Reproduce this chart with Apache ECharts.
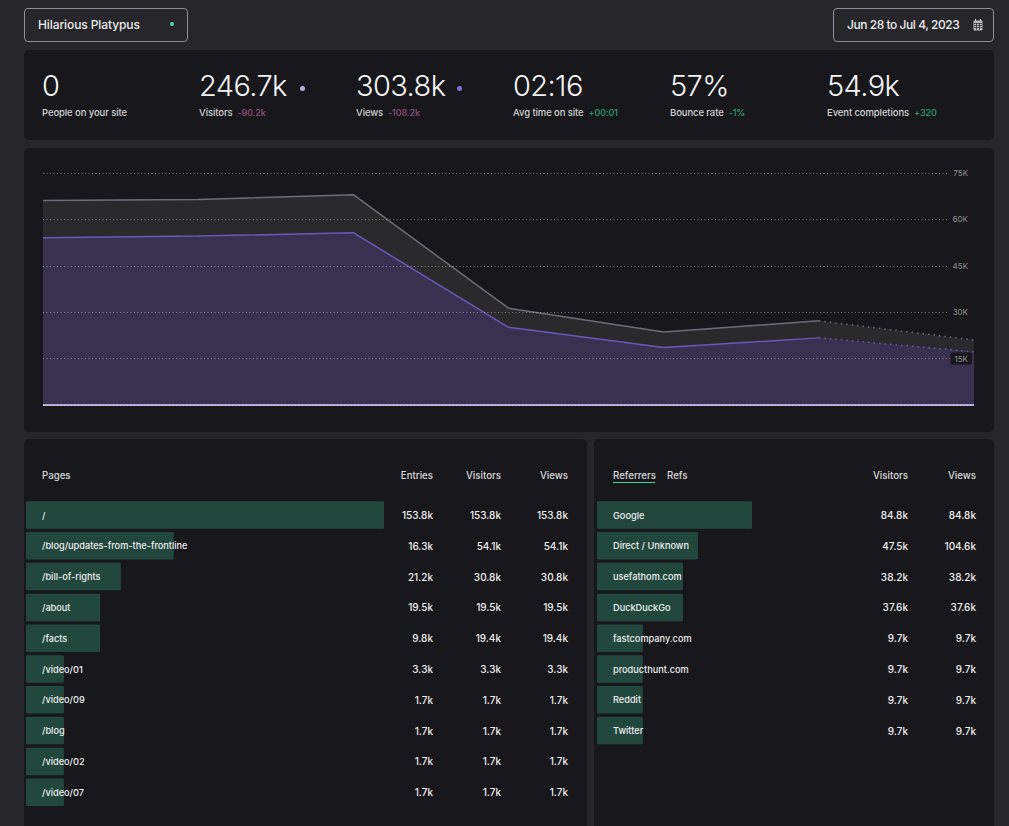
<!DOCTYPE html>
<html><head><meta charset="utf-8"><title>Analytics</title>
<script src="https://cdn.jsdelivr.net/npm/echarts@6/dist/echarts.min.js"></script>
<style>
html,body{margin:0;padding:0;width:1009px;height:826px;overflow:hidden;background:#26262b;font-family:Inter,sans-serif;color:#eee}
.panel{position:absolute;background:#18181c;border-radius:5px}
.box{position:absolute;box-sizing:border-box;top:8px;height:34px;border:1px solid #8f8f95;border-radius:4px;font-size:12px;font-weight:500;line-height:32px;color:#ececec;letter-spacing:-.1px}
.kpi{position:absolute;top:67px}
.kpi .big{font-size:29px;font-weight:300;line-height:38px;color:#f4f4f4;letter-spacing:-.6px;white-space:nowrap}
.kpi .sub{font-size:9.5px;font-weight:500;line-height:14px;margin-top:1px;color:#d2d2d4;white-space:nowrap;letter-spacing:-.1px}
.kpi .sub span{margin-left:5px;font-size:9px}
.dot{position:absolute;border-radius:50%}
#c{position:absolute;left:0;top:0;width:1009px;height:826px}
.hd{position:absolute;top:470px;font-size:9.7px;font-weight:500;line-height:12px;color:#d8d8da;white-space:nowrap}
</style></head><body>
<div class="panel" style="left:24px;top:50px;width:970px;height:90px"></div>
<div class="panel" style="left:24px;top:148px;width:970px;height:284px"></div>
<div class="panel" style="left:24px;top:439px;width:563px;height:400px"></div>
<div class="panel" style="left:594px;top:439px;width:400px;height:400px"></div>
<div class="box" style="left:24px;width:164px;padding-left:13px">Hilarious Platypus</div>
<div class="dot" style="left:170px;top:22px;width:4px;height:4px;background:#41d6a4"></div>
<div class="box" style="left:833px;width:161px;padding-left:13px;letter-spacing:-.45px">Jun 28 to Jul 4, 2023</div>
<svg style="position:absolute;left:973px;top:19px" width="10" height="12" viewBox="0 0 10 12"><rect x=".5" y="1.5" width="9" height="10" rx="1" fill="#b9b9bd"/><path d="M2.5 0v2M7.5 0v2" stroke="#d5d5d8"/><path d="M1 4.5h8M1 6.5h8M1 8.5h8M3.5 4v7M6.5 4v7" stroke="#2a2a2f" stroke-width=".7"/></svg>
<div id="kpis"></div>
<div id="heads"></div>
<div style="position:absolute;left:613px;top:482px;width:42px;height:1px;background:#3fd8a8"></div>
<div id="c"></div>
<script>
// Header tiles
var kpiValues = ['0','246.7k','303.8k','02:16','57%','54.9k'];
var kpiLabels = ['People on your site','Visitors','Views','Avg time on site','Bounce rate','Event completions'];
var kpiDeltas = ['','-90.2k','-108.2k','+00:01','-1%','+320'];

// Time series
var days = ['Jun 28, 2023','Jun 29, 2023','Jun 30, 2023','Jul 1, 2023','Jul 2, 2023','Jul 3, 2023','Jul 4, 2023'];
var viewsValues = [66100,66400,68000,31300,23600,27200,21000];
var visitorsValues = [54100,54600,55700,25100,18600,21700,17200];
var eventValues = [0,0,0,0,0,0,0];

// Pages table
var pageNames = ['/','/blog/updates-from-the-frontline','/bill-of-rights','/about','/facts','/video/01','/video/09','/blog','/video/02','/video/07'];
var pageEntries = ['153.8k','16.3k','21.2k','19.5k','9.8k','3.3k','1.7k','1.7k','1.7k','1.7k'];
var pageVisitors = ['153.8k','54.1k','30.8k','19.5k','19.4k','3.3k','1.7k','1.7k','1.7k','1.7k'];
var pageViews = ['153.8k','54.1k','30.8k','19.5k','19.4k','3.3k','1.7k','1.7k','1.7k','1.7k'];
var pageBarLengths = [100,41.3,26.5,20.7,20.7,10.6,10.6,10.6,10.6,10.6];

// Referrers table
var refNames = ['Google','Direct / Unknown','usefathom.com','DuckDuckGo','fastcompany.com','producthunt.com','Reddit','Twitter'];
var refVisitors = ['84.8k','47.5k','38.2k','37.6k','9.7k','9.7k','9.7k','9.7k'];
var refViews = ['84.8k','104.6k','38.2k','37.6k','9.7k','9.7k','9.7k','9.7k'];
var refBarLengths = [43.3,28.2,24,24,12.8,12.8,12.8,12.8];

var kpiX = [42,199,356,513,670,827];
document.getElementById('kpis').innerHTML = kpiValues.map(function(v,i){
  var d = kpiDeltas[i];
  var col = d.charAt(0)==='+' || i===4 ? '#2f9e78' : '#94507c';
  return '<div class="kpi" style="left:'+kpiX[i]+'px"><div class="big">'+v+'</div><div class="sub">'+kpiLabels[i]+(d?'<span style="color:'+col+'">'+d+'</span>':'')+'</div></div>';
}).join('') +
'<div class="dot" style="left:300px;top:86px;width:5px;height:5px;background:#b7abe4"></div>'+
'<div class="dot" style="left:457px;top:86px;width:5px;height:5px;background:#7f6fd6"></div>';

var heads = [['Pages',42,'l'],['Entries',433,'r'],['Visitors',501,'r'],['Views',568,'r'],['Referrers',613,'l'],['Refs',667,'l'],['Visitors',908,'r'],['Views',976,'r']];
document.getElementById('heads').innerHTML = heads.map(function(h){
  return '<div class="hd" style="'+(h[2]==='l'?'left:'+h[1]+'px':'right:'+(1009-h[1])+'px')+'">'+h[0]+'</div>';
}).join('');

var solid = function(a){return a.map(function(v,i){return i<=5?v:null;});};
var dotted = function(a){return a.map(function(v,i){return i>=5?v:null;});};
function lineSeries(name,data,color,dash,width){
  return {name:name,type:'line',xAxisIndex:0,yAxisIndex:0,data:data,symbol:'none',silent:true,clip:false,connectNulls:false,
    lineStyle:{color:color,width:width,type:dash?[1.5,4]:'solid'},itemStyle:{color:color}};
}
function areaSeries(name,data,fill){
  return {name:name,type:'line',xAxisIndex:0,yAxisIndex:0,data:data,symbol:'none',silent:true,
    lineStyle:{width:0,opacity:0},areaStyle:{color:fill,opacity:1,origin:'start'}};
}
var rowAxis=function(grid,data,x,base){
  return {type:'category',gridIndex:grid,inverse:true,data:data,position:'left',offset:base-x,
    axisLine:{show:false},axisTick:{show:false},splitLine:{show:false},
    axisLabel:{show:true,interval:0,align:'right',margin:0,color:'#eeeeee',fontFamily:'Inter',fontSize:10,fontWeight:500},z:5};
};
var nameAxis=function(grid,data,margin){
  return {type:'category',gridIndex:grid,inverse:true,data:data,position:'left',
    axisLine:{show:false},axisTick:{show:false},splitLine:{show:false},
    axisLabel:{show:true,inside:true,interval:0,align:'left',margin:margin,color:'#eeeeee',fontFamily:'Inter',fontSize:9.2,fontWeight:500},z:5};
};
var barX=function(grid){return {type:'value',gridIndex:grid,min:0,max:100,show:false};};
var chart=echarts.init(document.getElementById('c'),null,{renderer:'svg',width:1009,height:826});
chart.setOption({
  animation:false,backgroundColor:'transparent',
  grid:[
    {left:43,top:173,width:931,height:232},
    {left:26,top:499.6,width:358,height:308},
    {left:597,top:499.6,width:358,height:246.4}
  ],
  xAxis:[
    {type:'category',gridIndex:0,data:days,boundaryGap:false,axisLine:{show:false},axisTick:{show:false},splitLine:{show:false},
     axisLabel:{color:'#8c8c90',fontSize:8,fontFamily:'Inter',margin:6,showMinLabel:false,showMaxLabel:false,hideOverlap:false,
       interval:function(i){return i===2||i===4;}}},
    barX(1),barX(2)
  ],
  yAxis:[
    {type:'value',gridIndex:0,min:0,max:75000,interval:15000,position:'right',z:10,axisLine:{show:false},axisTick:{show:false},
     splitLine:{show:true,lineStyle:{color:'rgba(255,255,255,0.42)',width:1,type:[1,2.5]}},
     axisLabel:{inside:true,margin:2,showMinLabel:false,color:'#8f8f93',fontSize:8,fontFamily:'Inter',backgroundColor:'#18181c',borderRadius:2,padding:[2,4],
       formatter:function(v){return (v/1000)+'K';}}},
    nameAxis(1,pageNames,16),
    rowAxis(1,pageEntries,433,26),
    rowAxis(1,pageVisitors,501,26),
    rowAxis(1,pageViews,568,26),
    nameAxis(2,refNames,16),
    rowAxis(2,refVisitors,908,597),
    rowAxis(2,refViews,976,597)
  ],
  series:[
    areaSeries('Views area',viewsValues,'rgba(255,255,255,0.08)'),
    lineSeries('Views',solid(viewsValues),'#6f6c78',false,1.5),
    lineSeries('Views (partial)',dotted(viewsValues),'#6f6c78',true,1.5),
    areaSeries('Visitors area',visitorsValues,'rgba(114,82,218,0.2)'),
    lineSeries('Visitors',solid(visitorsValues),'#6a58bb',false,1.5),
    lineSeries('Visitors (partial)',dotted(visitorsValues),'#6a58bb',true,1.5),
    lineSeries('Events',eventValues,'#b5a9da',false,2),
    {name:'Pages',type:'bar',xAxisIndex:1,yAxisIndex:1,data:pageBarLengths,barWidth:27.5,silent:true,itemStyle:{color:'#22483e',borderRadius:1}},
    {name:'Referrers',type:'bar',xAxisIndex:2,yAxisIndex:5,data:refBarLengths,barWidth:27.5,silent:true,itemStyle:{color:'#22483e',borderRadius:1}}
  ]
});
</script></body></html>
